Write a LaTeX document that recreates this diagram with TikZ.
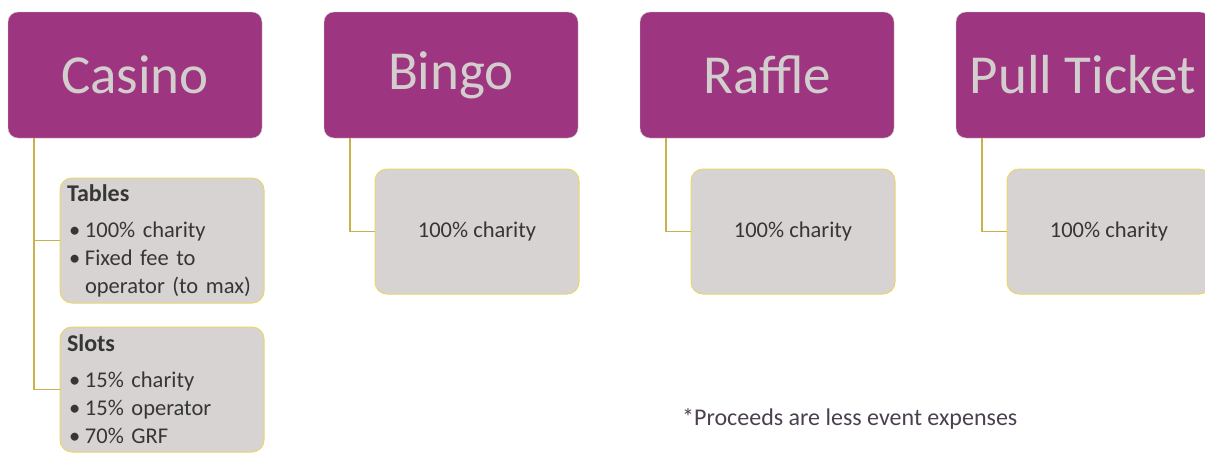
\documentclass[tikz,border=0pt]{standalone}
\usepackage{fontspec}
\setmainfont{Carlito}
\usetikzlibrary{positioning}
\definecolor{plum}{HTML}{9E3580}
\definecolor{headtext}{HTML}{D2CECE}
\definecolor{leafgray}{HTML}{D7D3D3}
\definecolor{leafline}{HTML}{EAD56A}
\definecolor{linkgold}{HTML}{C9B24A}
\definecolor{inkgray}{HTML}{363636}
\definecolor{notegray}{HTML}{4B4050}
\tikzset{
  head/.style={draw=gray!45, fill=plum, rounded corners=10pt, text=headtext, minimum width=254pt, minimum height=126pt, inner sep=0pt, outer sep=0pt, font=\fontsize{55}{60}\selectfont},
  leaf/.style={draw=leafline, line width=1pt, fill=leafgray, rounded corners=12pt, text=inkgray, minimum width=204pt, minimum height=125pt, outer sep=0pt, font=\fontsize{22.5}{28}\selectfont},
  leaflist/.style={leaf, align=left, text width=190pt, inner xsep=7pt},
  link/.style={draw=linkgold, line width=1.5pt},
}
\newcommand{\bul}{\makebox[18pt][l]{\hspace{2pt}\textbullet}}
\newcommand{\hang}{\hspace*{18pt}}
\newcommand{\leaftitle}[1]{{\fontsize{24}{28}\selectfont\bfseries #1}}
\begin{document}
\begin{tikzpicture}[x=1pt, y=-1pt]
\useasboundingbox (0,0) rectangle (1205,453);
%games
\node[head](casino) at (135,75){Casino};
\node[head, right=62pt of casino](bingo){Bingo};
\node[head, right=62pt of bingo](raffle){Raffle};
\node[head, right=62pt of raffle](pull){Pull Ticket};
%proceeds
\node[leaflist, below right=40pt and 52pt of casino.south west](tables){\leaftitle{Tables}\\[8pt]\bul 100\% charity\\\bul Fixed fee to\\\hang operator (to max)};
\node[leaflist, below=24pt of tables](slots){\leaftitle{Slots}\\[8pt]\bul 15\% charity\\\bul 15\% operator\\\bul 70\% GRF};
\node[leaf, below right=31pt and 51pt of bingo.south west](bingoshare){100\% charity};
\node[leaf, below right=31pt and 51pt of raffle.south west](raffleshare){100\% charity};
\node[leaf, below right=31pt and 51pt of pull.south west](pullshare){100\% charity};
%path
\path[link]([xshift=26pt]casino.south west) |- (tables.west);
\path[link]([xshift=26pt]casino.south west) |- (slots.west);
\path[link]([xshift=26pt]bingo.south west) |- (bingoshare.west);
\path[link]([xshift=26pt]raffle.south west) |- (raffleshare.west);
\path[link]([xshift=26pt]pull.south west) |- (pullshare.west);
%note
\node[anchor=base west, text=notegray, font=\fontsize{24}{28}\selectfont, inner sep=0pt](note) at (682,425){*Proceeds are less event expenses};
\end{tikzpicture}
\end{document}
